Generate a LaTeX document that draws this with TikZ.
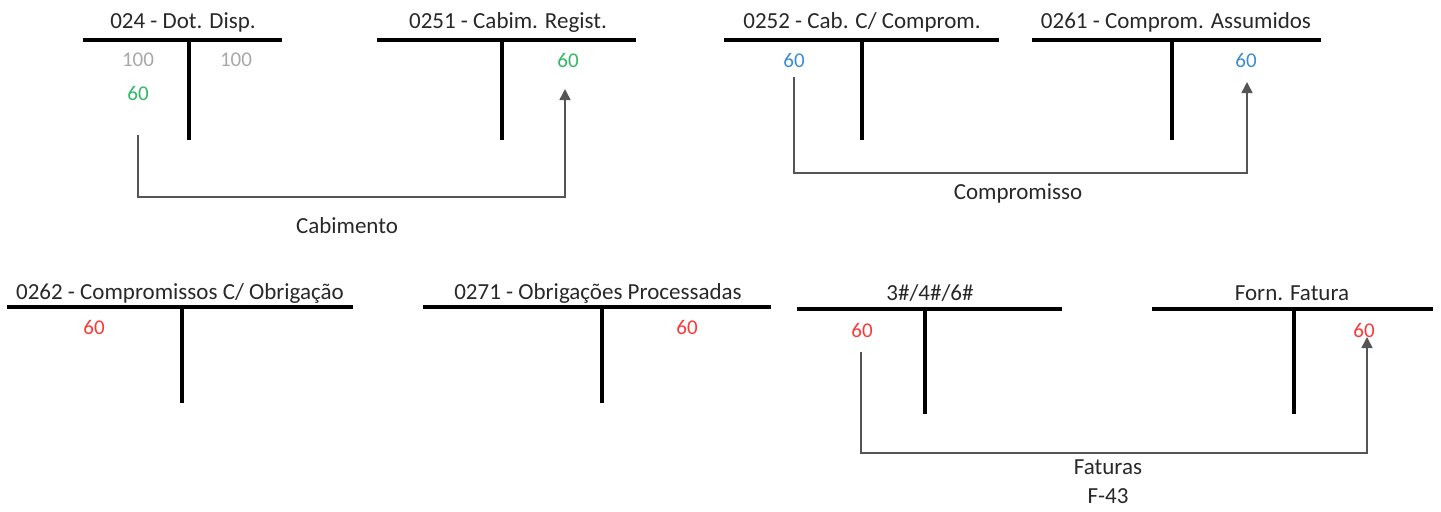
\documentclass[tikz,border=0pt]{standalone}
\usepackage{fontspec}
\setmainfont{Carlito}
\usetikzlibrary{arrows.meta}
\definecolor{valgray}{RGB}{168,168,168}
\definecolor{valgreen}{RGB}{50,185,100}
\definecolor{valblue}{RGB}{60,140,210}
\definecolor{valred}{RGB}{255,55,55}
\definecolor{txt}{RGB}{40,40,40}
\definecolor{conncol}{RGB}{85,85,85}
\tikzset{
  tbar/.style={line width=2pt, black},
  ttitle/.style={inner sep=0pt, font=\fontsize{11.5}{13}\selectfont, text=txt},
  tval/.style={inner sep=0pt, font=\fontsize{10.5}{12}\selectfont},
  tlabel/.style={inner sep=0pt, font=\fontsize{11.5}{13}\selectfont, text=txt},
  conn/.style={line width=0.8pt, conncol, -{Triangle[width=5.5pt,length=5.5pt]}}
}
\begin{document}
\begin{tikzpicture}[x=0.5pt,y=-0.5pt]
\useasboundingbox (0,0) rectangle (1441,511);
% ---------- T account 1
\node[ttitle] (t1) at (183,22) {024 - Dot. Disp.};
\coordinate (b1l) at (83,40); \coordinate (b1r) at (282,40);
\coordinate (s1t) at (189,40); \coordinate (s1b) at (189,140);
\draw[tbar] (b1l) -- (b1r); \draw[tbar] (s1t) -- (s1b);
\node[tval,text=valgray] (v1a) at (138,60) {100};
\node[tval,text=valgray] (v1b) at (236,60) {100};
\node[tval,text=valgreen] (v1c) at (138,93) {60};
% ---------- T account 2
\node[ttitle] (t2) at (508,22) {0251 - Cabim. Regist.};
\coordinate (b2l) at (377,40); \coordinate (b2r) at (636,40);
\coordinate (s2t) at (502,40); \coordinate (s2b) at (502,140);
\draw[tbar] (b2l) -- (b2r); \draw[tbar] (s2t) -- (s2b);
\node[tval,text=valgreen] (v2a) at (568,60) {60};
% connector Cabimento
\coordinate (c1s) at (138,135);
\coordinate (c1e) at (565,89);
\draw[conn] (c1s) -- (138,197) -| (c1e);
\node[tlabel] (l1) at (347,226) {Cabimento};
% ---------- T account 3
\node[ttitle] (t3) at (862,22) {0252 - Cab. C/ Comprom.};
\coordinate (b3l) at (724,40); \coordinate (b3r) at (999,40);
\coordinate (s3t) at (862,40); \coordinate (s3b) at (862,140);
\draw[tbar] (b3l) -- (b3r); \draw[tbar] (s3t) -- (s3b);
\node[tval,text=valblue] (v3a) at (794,60) {60};
% ---------- T account 4
\node[ttitle] (t4) at (1176,22) {0261 - Comprom. Assumidos};
\coordinate (b4l) at (1032,40); \coordinate (b4r) at (1321,40);
\coordinate (s4t) at (1172,40); \coordinate (s4b) at (1172,140);
\draw[tbar] (b4l) -- (b4r); \draw[tbar] (s4t) -- (s4b);
\node[tval,text=valblue] (v4a) at (1246,60) {60};
% connector Compromisso
\coordinate (c2s) at (794,77);
\coordinate (c2e) at (1247,82);
\draw[conn] (c2s) -- (794,173) -| (c2e);
\node[tlabel] (l2) at (1018,193) {Compromisso};
% ---------- T account 5
\node[ttitle] (t5) at (180,293) {0262 - Compromissos C/ Obrigação};
\coordinate (b5l) at (7,307); \coordinate (b5r) at (353,307);
\coordinate (s5t) at (182,307); \coordinate (s5b) at (182,403);
\draw[tbar] (b5l) -- (b5r); \draw[tbar] (s5t) -- (s5b);
\node[tval,text=valred] (v5a) at (94,327) {60};
% ---------- T account 6
\node[ttitle] (t6) at (598,293) {0271 - Obrigações Processadas};
\coordinate (b6l) at (423,307); \coordinate (b6r) at (771,307);
\coordinate (s6t) at (602,307); \coordinate (s6b) at (602,403);
\draw[tbar] (b6l) -- (b6r); \draw[tbar] (s6t) -- (s6b);
\node[tval,text=valred] (v6a) at (687,327) {60};
% ---------- T account 7
\node[ttitle] (t7) at (930,293) {3\#/4\#/6\#};
\coordinate (b7l) at (797,309); \coordinate (b7r) at (1062,309);
\coordinate (s7t) at (925,309); \coordinate (s7b) at (925,414);
\draw[tbar] (b7l) -- (b7r); \draw[tbar] (s7t) -- (s7b);
\node[tval,text=valred] (v7a) at (862,330) {60};
% ---------- T account 8
\node[ttitle] (t8) at (1292,293) {Forn. Fatura};
\coordinate (b8l) at (1152,309); \coordinate (b8r) at (1433,309);
\coordinate (s8t) at (1294,309); \coordinate (s8b) at (1294,414);
\draw[tbar] (b8l) -- (b8r); \draw[tbar] (s8t) -- (s8b);
\node[tval,text=valred] (v8a) at (1364,330) {60};
% connector Faturas
\coordinate (c3s) at (861,352);
\coordinate (c3e) at (1367,337);
\draw[conn] (c3s) -- (861,453) -| (c3e);
\node[tlabel] (l3) at (1108,467) {Faturas};
\node[tlabel] (l4) at (1108,496) {F-43};
\end{tikzpicture}
\end{document}
